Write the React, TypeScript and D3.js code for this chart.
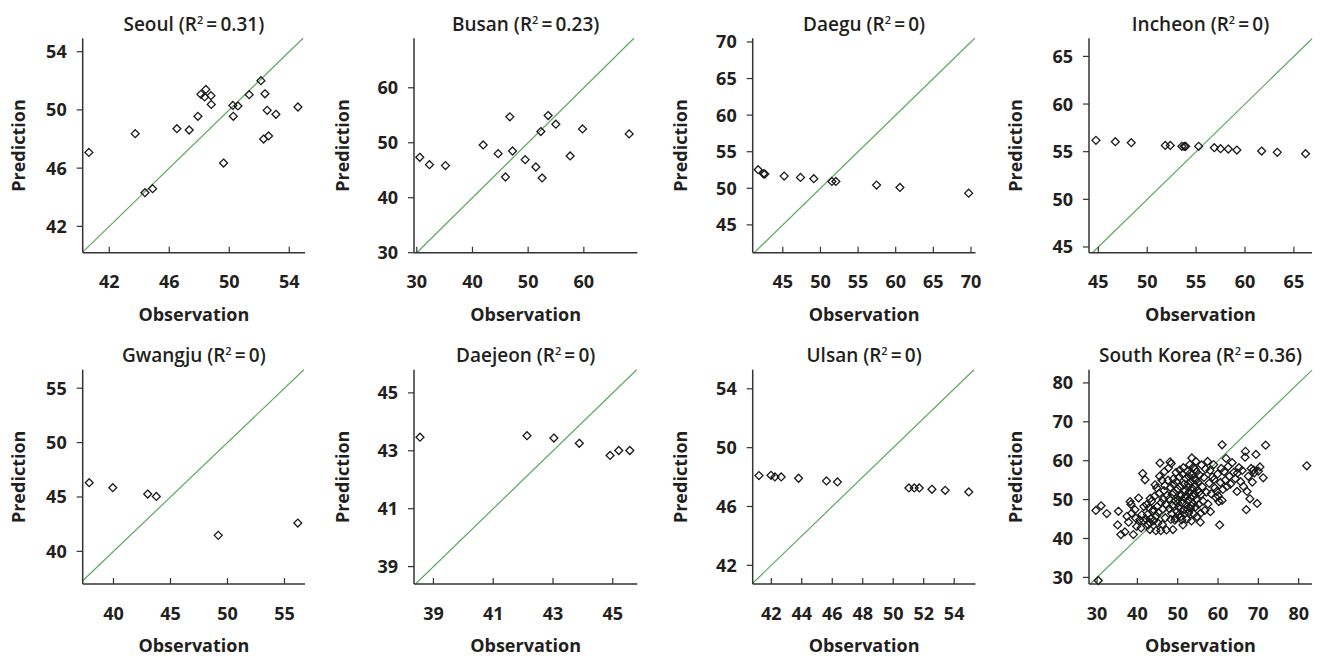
import React from "react";
import * as d3 from "d3";

// ---------- DATA ----------
const seoulObs = [40.64, 43.73, 44.38, 44.89, 46.51, 47.33, 47.91, 48.11, 48.44, 48.36, 48.78, 48.8, 49.62, 50.24, 50.27, 50.58, 51.33, 52.11, 52.38, 52.29, 52.62, 52.53, 53.11, 54.58];
const seoulPred = [47.08, 48.37, 44.31, 44.59, 48.71, 48.62, 49.56, 51.07, 51.41, 50.89, 50.98, 50.38, 46.35, 50.31, 49.56, 50.27, 51.05, 52.01, 51.11, 48.0, 48.21, 49.97, 49.7, 50.2];

const busanObs = [30.54, 32.28, 35.15, 41.92, 44.61, 45.93, 47.19, 46.71, 49.46, 51.38, 52.28, 52.51, 53.59, 54.97, 57.54, 59.76, 68.14];
const busanPred = [47.36, 46.02, 45.84, 49.6, 48.02, 43.77, 48.5, 54.71, 46.93, 45.59, 52.04, 43.59, 54.95, 53.37, 47.6, 52.52, 51.61];

const daeguObs = [41.72, 42.43, 42.61, 45.18, 47.35, 49.12, 51.52, 52.05, 57.46, 60.56, 69.69];
const daeguPred = [52.54, 51.99, 51.95, 51.67, 51.49, 51.31, 50.94, 50.94, 50.44, 50.12, 49.34];

const incheonObs = [44.76, 46.74, 48.37, 51.85, 52.36, 53.55, 53.79, 53.93, 55.26, 56.86, 57.5, 58.29, 59.17, 61.7, 63.3, 66.19];
const incheonPred = [56.19, 56.05, 55.94, 55.66, 55.66, 55.56, 55.56, 55.56, 55.56, 55.42, 55.31, 55.28, 55.17, 55.07, 54.93, 54.79];

const gwangjuObs = [37.87, 39.94, 43.0, 43.76, 49.19, 56.17];
const gwangjuPred = [46.31, 45.85, 45.27, 45.05, 41.47, 42.6];

const daejeonObs = [38.55, 42.13, 43.03, 43.88, 44.91, 45.2, 45.57];
const daejeonPred = [43.47, 43.52, 43.44, 43.26, 42.84, 43.01, 43.01];

const ulsanObs = [41.19, 41.98, 42.24, 42.65, 43.79, 45.62, 46.34, 51.03, 51.38, 51.71, 52.54, 53.41, 54.96];
const ulsanPred = [48.1, 48.12, 48.01, 48.01, 47.92, 47.74, 47.67, 47.26, 47.26, 47.26, 47.17, 47.1, 46.99];

const koreaPairs: [number, number][] = [
  [29.7, 47.2], [30.3, 29.2], [31.0, 48.4], [32.4, 46.4], [35.3, 47.0], [35.1, 43.5], [35.9, 41.0], [36.9, 41.7], [37.4, 45.7], [37.8, 44.2],
  [38.2, 49.5], [38.6, 46.5], [38.4, 48.8], [39.0, 41.0], [39.4, 47.4], [39.8, 43.1], [39.6, 45.2], [40.3, 50.4], [40.6, 44.8], [41.1, 46.1],
  [41.5, 44.6], [41.3, 56.7], [41.9, 55.1], [41.6, 48.2], [40.9, 42.7],
  [42.3, 48.7], [42.7, 43.5], [43.1, 42.3], [42.5, 46.2], [42.9, 47.9], [43.3, 45.1], [43.5, 49.6], [43.2, 50.3], [44.0, 47.4], [44.4, 53.8],
  [44.8, 53.0], [44.1, 44.6], [44.6, 42.0], [44.3, 50.9], [44.9, 48.2], [45.2, 46.7], [45.6, 59.4], [45.8, 42.0], [45.4, 51.6], [45.9, 49.2],
  [45.1, 44.0], [46.3, 47.6], [46.6, 52.3], [46.1, 55.0], [46.9, 45.3], [46.4, 50.1], [46.7, 57.2], [47.0, 48.8], [46.2, 43.6], [45.5, 56.0],
  [44.7, 45.8], [43.8, 47.0], [43.0, 44.2], [42.1, 45.0], [47.2, 42.2], [47.4, 51.1], [46.8, 53.6],
  [47.7, 58.1], [48.1, 59.7], [48.4, 59.3], [48.8, 42.3], [47.9, 50.2], [48.2, 53.1], [48.5, 46.4], [48.7, 48.5], [48.9, 55.3], [49.1, 51.8],
  [49.3, 44.7], [49.4, 49.6], [49.6, 57.0], [49.8, 46.9], [50.0, 52.7], [50.1, 50.0], [50.3, 48.0], [50.4, 55.8], [50.6, 53.4], [50.8, 45.6],
  [50.9, 51.2], [51.1, 49.0], [51.2, 56.5], [51.3, 43.5], [51.5, 47.5], [51.6, 54.0], [51.8, 50.6], [51.9, 52.3], [50.2, 46.0], [49.0, 53.9],
  [48.0, 47.6], [48.6, 51.4], [49.7, 54.6], [50.7, 50.9], [51.4, 58.2], [51.0, 44.8], [49.5, 45.2], [48.3, 44.9], [47.6, 55.0], [50.5, 57.6],
  [51.7, 46.3], [50.0, 49.1],
  [52.0, 55.4], [52.1, 48.7], [52.2, 51.0], [52.3, 45.0], [52.4, 57.3], [52.5, 53.2], [52.6, 49.8], [52.7, 46.6], [52.8, 55.9], [52.9, 52.0],
  [53.0, 59.0], [53.1, 47.8], [53.2, 50.5], [53.3, 54.6], [53.4, 44.5], [53.5, 60.7], [53.6, 56.5], [53.7, 52.8], [53.8, 49.0], [53.9, 58.4],
  [54.0, 46.3], [54.1, 51.6], [54.2, 55.2], [54.3, 53.6], [54.4, 48.1], [54.5, 59.8], [54.6, 50.0], [54.7, 57.1], [54.8, 45.6], [54.9, 52.4],
  [55.0, 54.5], [55.2, 48.8], [55.4, 56.3], [55.6, 44.2], [55.8, 51.3], [55.9, 58.9], [56.1, 53.3], [56.3, 49.6], [56.5, 55.7], [56.7, 47.2],
  [56.9, 57.9], [52.4, 47.6], [53.1, 56.8], [53.9, 50.8], [54.6, 55.0], [55.3, 51.9], [52.6, 54.1], [53.4, 48.4], [54.3, 57.8], [55.7, 46.5],
  [57.4, 59.8], [57.5, 48.9], [57.8, 54.2], [58.0, 57.5], [58.3, 51.5], [58.6, 55.8], [58.9, 59.0], [59.2, 53.0], [59.5, 50.5], [59.7, 52.1],
  [59.9, 56.6], [60.2, 49.5], [60.4, 43.5], [60.6, 54.4], [60.8, 58.0], [61.0, 64.1], [61.2, 52.6], [61.5, 57.2], [61.8, 55.0], [62.0, 60.6],
  [62.2, 53.4], [57.1, 51.9], [58.1, 46.9], [59.0, 55.2], [60.0, 51.0], [61.0, 49.8],
  [62.5, 58.5], [62.8, 56.0], [63.1, 54.0], [63.5, 59.5], [63.9, 57.0], [64.3, 55.4], [64.7, 52.1], [64.8, 56.8], [65.2, 58.2], [65.6, 54.6],
  [66.0, 57.5], [66.3, 53.4], [66.7, 60.9], [66.8, 62.4], [67.0, 47.4], [67.2, 52.1], [67.5, 56.0], [67.9, 50.2], [68.2, 58.0], [68.5, 54.5],
  [68.8, 57.6], [69.0, 56.9], [69.4, 61.6], [69.7, 49.0], [70.0, 57.3], [70.4, 58.4], [71.2, 55.6], [71.8, 64.0], [82.0, 58.7],
];
const koreaObs = koreaPairs.map((p) => p[0]);
const koreaPred = koreaPairs.map((p) => p[1]);

const regionNames = ["Seoul", "Busan", "Daegu", "Incheon", "Gwangju", "Daejeon", "Ulsan", "South Korea"];
const r2Labels = ["0.31", "0.23", "0", "0", "0", "0", "0", "0.36"];
const obsSeries = [seoulObs, busanObs, daeguObs, incheonObs, gwangjuObs, daejeonObs, ulsanObs, koreaObs];
const predSeries = [seoulPred, busanPred, daeguPred, incheonPred, gwangjuPred, daejeonPred, ulsanPred, koreaPred];

const xTickValues = [
  [42, 46, 50, 54],
  [30, 40, 50, 60],
  [45, 50, 55, 60, 65, 70],
  [45, 50, 55, 60, 65],
  [40, 45, 50, 55],
  [39, 41, 43, 45],
  [42, 44, 46, 48, 50, 52, 54],
  [30, 40, 50, 60, 70, 80],
];
const yTickValues = [
  [42, 46, 50, 54],
  [30, 40, 50, 60],
  [45, 50, 55, 60, 65, 70],
  [45, 50, 55, 60, 65],
  [40, 45, 50, 55],
  [39, 41, 43, 45],
  [42, 46, 50, 54],
  [30, 40, 50, 60, 70, 80],
];
const xDomains: [number, number][] = [
  [40.23, 55.05], [29.5, 69.6], [41.0, 70.6], [44.05, 66.85],
  [37.3, 56.8], [38.35, 45.82], [40.78, 55.4], [28.0, 83.3],
];
const yDomains: [number, number][] = [
  [40.19, 54.92], [30.0, 69.0], [41.2, 70.5], [44.4, 66.9],
  [37.0, 56.7], [38.4, 45.8], [40.73, 55.3], [28.3, 83.4],
];

// ---------- LAYOUT ----------
const W = 1320;
const H = 656;
const colLeft = [82.7, 414, 752.7, 1089];
const colRight = [305, 637.3, 975.5, 1312];
const rowTop = [38.3, 369.7];
const rowBottom = [252.7, 584];
const yLabelOffset = [64.4, 71.5, 72, 73];

const FONT = "'Open Sans', 'Noto Sans', sans-serif";
const TEXT = "#231f20";
const AXIS = "#333333";
const GREEN = "#5fa85f";

const diamond = d3.symbol(d3.symbolDiamond2, 40)() as string;

function Panel({ i }: { i: number }) {
  const col = i % 4;
  const row = Math.floor(i / 4);
  const left = colLeft[col];
  const right = colRight[col];
  const top = rowTop[row];
  const bottom = rowBottom[row];
  const x = d3.scaleLinear().domain(xDomains[i]).range([left, right]);
  const y = d3.scaleLinear().domain(yDomains[i]).range([bottom, top]);
  const lo = Math.max(xDomains[i][0], yDomains[i][0]);
  const hi = Math.min(xDomains[i][1], yDomains[i][1]);
  const line = d3.line<number>().x((v) => x(v)).y((v) => y(v));
  const cx = (left + right) / 2;
  const cy = (top + bottom) / 2;
  const obs = obsSeries[i];
  const pred = predSeries[i];
  return (
    <g>
      <path d={line([lo, hi]) || ""} stroke={GREEN} strokeWidth={1.2} fill="none" />
      {obs.map((o, k) => (
        <path key={k} d={diamond} transform={`translate(${x(o)},${y(pred[k])})`} fill="none" stroke="#1a1a1a" strokeWidth={1.3} />
      ))}
      <line x1={left} x2={right} y1={bottom} y2={bottom} stroke={AXIS} strokeWidth={1.5} />
      <line x1={left} x2={left} y1={top} y2={bottom} stroke={AXIS} strokeWidth={1.5} />
      {xTickValues[i].map((t) => (
        <g key={"x" + t}>
          <line x1={x(t)} x2={x(t)} y1={bottom} y2={bottom - 6} stroke={AXIS} strokeWidth={1.2} />
          <text x={x(t)} y={bottom + 35.6} textAnchor="middle" fontSize={18} fontWeight={700} fill={TEXT} fontFamily={FONT}>
            {t}
          </text>
        </g>
      ))}
      {yTickValues[i].map((t) => (
        <g key={"y" + t}>
          <line x1={left - 6} x2={left} y1={y(t)} y2={y(t)} stroke={AXIS} strokeWidth={1.2} />
          <text x={left - 16} y={y(t)} dy="0.36em" textAnchor="end" fontSize={18} fontWeight={700} fill={TEXT} fontFamily={FONT}>
            {t}
          </text>
        </g>
      ))}
      <text x={cx} y={top - 7.5} textAnchor="middle" fontSize={19} fontWeight={600} fill={TEXT} fontFamily={FONT}>
        {regionNames[i] + " (R"}
        <tspan fontSize={11} dy={-7}>2</tspan>
        <tspan dy={7}>{"\u2009=\u2009" + r2Labels[i] + ")"}</tspan>
      </text>
      <text x={cx} y={bottom + 68} textAnchor="middle" fontSize={18} fontWeight={700} fill={TEXT} fontFamily={FONT}>
        Observation
      </text>
      <text
        transform={`translate(${left - yLabelOffset[col]},${cy}) rotate(-90)`}
        textAnchor="middle"
        dy="0.36em"
        fontSize={18}
        fontWeight={700}
        fill={TEXT}
        fontFamily={FONT}
      >
        Prediction
      </text>
    </g>
  );
}

export default function App() {
  return (
    <svg width={W} height={H} style={{ position: "absolute", left: 0, top: 0, background: "#fff" }}>
      <rect width={W} height={H} fill="#fff" />
      {regionNames.map((_, i) => (
        <Panel key={i} i={i} />
      ))}
    </svg>
  );
}
